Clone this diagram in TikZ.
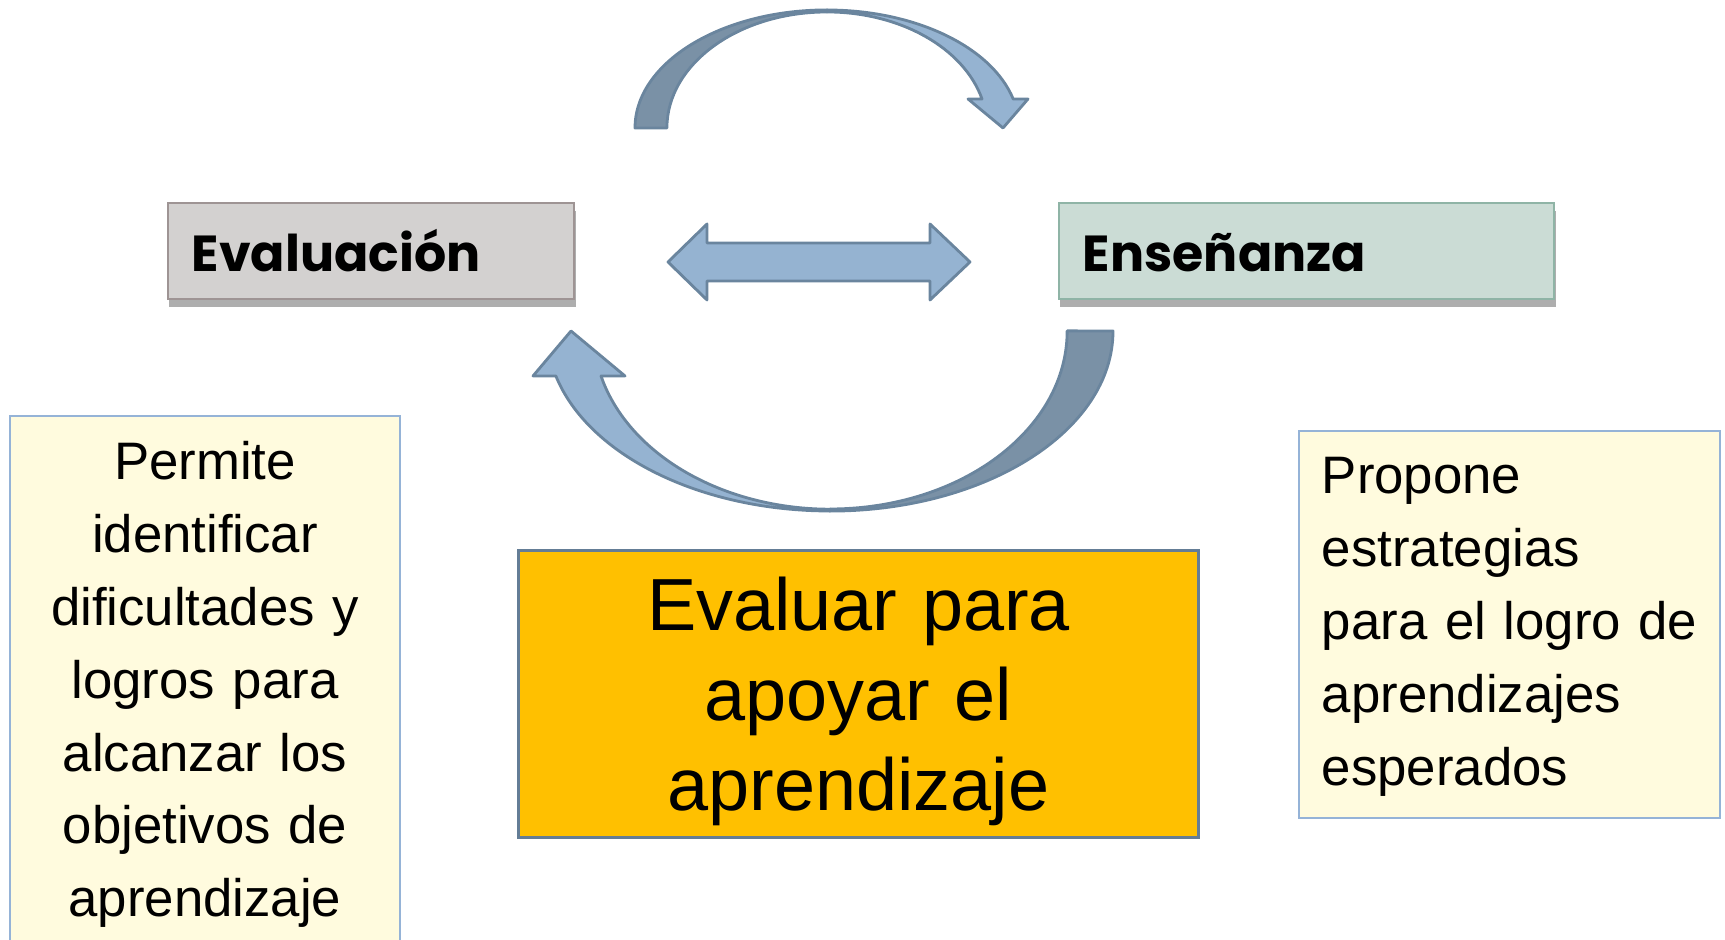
\documentclass[tikz,border=0pt]{standalone}
\usepackage{fontspec}
\setmainfont{Liberation Sans}
\newfontfamily\headfont{Poppins}
\usetikzlibrary{shadows}
\definecolor{evfill}{RGB}{211,209,208}
\definecolor{evline}{RGB}{158,148,148}
\definecolor{enfill}{RGB}{203,220,213}
\definecolor{enline}{RGB}{143,180,166}
\definecolor{ntfill}{RGB}{255,251,222}
\definecolor{ntline}{RGB}{149,179,215}
\definecolor{mnfill}{RGB}{255,192,0}
\definecolor{mnline}{RGB}{100,125,150}
\definecolor{arlt}{RGB}{149,179,209}
\definecolor{ardk}{RGB}{122,145,166}
\definecolor{arline}{RGB}{106,133,158}

\begin{document}
\begin{tikzpicture}
    [x=0.01cm, y=0.01cm,
     hd/.style={rectangle, draw, line width=0.6pt, inner xsep=0.24cm, inner ysep=0pt, align=left, text height=0.69cm, text depth=0.27cm, font=\headfont\bfseries\fontsize{14.4pt}{16pt}\selectfont, drop shadow={shadow xshift=0.4pt, shadow yshift=-2.2pt, fill=black!70, opacity=0.45}},
     nt/.style={rectangle, draw=ntline, fill=ntfill, line width=0.55pt, inner ysep=0pt, font=\fontsize{15pt}{20.7pt}\selectfont},
     mn/.style={rectangle, draw=mnline, fill=mnfill, line width=0.85pt, inner ysep=0pt, align=center, font=\fontsize{21pt}{25.6pt}\selectfont},
     blk/.style={draw=arline, line width=0.8pt, line join=round}]
    \useasboundingbox (0,0) rectangle (1725,940);
    \node[hd, fill=evfill, draw=evline, text width=3.58cm] (ev) at (371,689) {Evaluación};
    \node[hd, fill=enfill, draw=enline, text width=4.47cm] (en) at (1306.5,689) {Enseñanza};
    \node[nt, anchor=north, text width=3.5cm, align=center, inner xsep=0.2cm, text height=0.64cm, text depth=4.71cm] (nl) at (205,525)
        {Permite\\identificar\\dificultades y\\logros para\\alcanzar los\\objetivos de\\aprendizaje};
    \node[nt, anchor=north, text width=3.75cm, align=left, inner xsep=0.23cm, text height=0.63cm, text depth=3.24cm] (nr) at (1509.5,510)
        {Propone\\estrategias\\\mbox{para el logro de}\\aprendizajes\\esperados};
    \node[mn, anchor=north, text width=6.59cm, inner xsep=0.1cm, text height=0.8cm, text depth=2.07cm] (mid) at (858.5,391)
        {Evaluar para\\apoyar el\\aprendizaje};
    \fill[blk, fill=ardk] (635,812) arc[start angle=180, end angle=90, x radius=1.92cm, y radius=1.18cm]
        -- (827,928) arc[start angle=90, end angle=180, x radius=1.6cm, y radius=1.16cm] -- cycle;
    \fill[blk, fill=arlt] (827,930) arc[start angle=90, end angle=14.2, x radius=1.92cm, y radius=1.18cm]
        -- (1028,841) -- (1003,812) -- (968,841) -- (982,841)
        arc[start angle=14.5, end angle=90, x radius=1.6cm, y radius=1.16cm] -- cycle;
    \fill[blk, fill=ardk] (1113,609) arc[start angle=0, end angle=-90, x radius=2.83cm, y radius=1.8cm]
        -- (830,431) arc[start angle=-90, end angle=0, x radius=2.37cm, y radius=1.78cm] -- cycle;
    \fill[blk, fill=arlt] (830,429) arc[start angle=270, end angle=194.5, x radius=2.83cm, y radius=1.8cm]
        -- (533,564) -- (571,609) -- (625,564) -- (601,564)
        arc[start angle=194.6, end angle=270, x radius=2.37cm, y radius=1.78cm] -- cycle;
    \fill[blk, fill=arlt] (668,678) -- (707,716) -- (707,697) -- (930,697) -- (930,716) -- (970,678)
        -- (930,640) -- (930,659) -- (707,659) -- (707,640) -- cycle;
\end{tikzpicture}
\end{document}
